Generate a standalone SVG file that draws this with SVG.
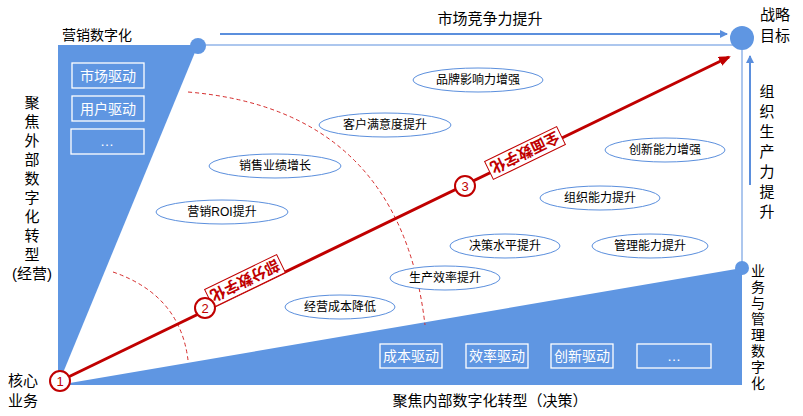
<svg xmlns="http://www.w3.org/2000/svg" width="803" height="416" viewBox="0 0 803 416">
<defs>
<marker id="ab" markerWidth="8" markerHeight="8" refX="7" refY="4" orient="auto" markerUnits="userSpaceOnUse"><path d="M0,0 L8,4 L0,8 z" fill="#5b8fdd"/></marker>
<marker id="ar" markerWidth="12" markerHeight="10" refX="10" refY="5" orient="auto" markerUnits="userSpaceOnUse"><path d="M0,0 L12,5 L0,10 z" fill="#c00000"/></marker>
</defs>
<style>
text{font-family:"Liberation Sans","Noto Sans CJK SC",sans-serif;fill:#000}
.e{fill:#fff;stroke:#5b8fdd;stroke-width:1}
.et{font-size:12px;text-anchor:middle}
.bx{fill:none;stroke:#fff;stroke-width:1.3}
.bt{font-size:14px;fill:#fff;text-anchor:middle}
.lb{font-size:15px}
.num{fill:#fff;stroke:#c00000;stroke-width:2}
.nt{font-size:13px;fill:#c00000;text-anchor:middle}
.st{font-size:15px;font-weight:bold;fill:#c00000;text-anchor:middle}
.dash{fill:none;stroke:#d52b2b;stroke-width:1;stroke-dasharray:4,3}
</style>
<rect width="803" height="416" fill="#fff"/>
<g id="shapes">
<polygon points="58,45 198,45 58,385" fill="#5f96e2"/>
<polygon points="58,385 742,268 742,385" fill="#5f96e2"/>
<line x1="198" y1="45" x2="742" y2="45" stroke="#5b8fdd" stroke-width="1"/>
<line x1="742" y1="50" x2="742" y2="268" stroke="#5b8fdd" stroke-width="1"/>
<circle cx="198" cy="46" r="8" fill="#5f96e2"/>
<circle cx="742" cy="268" r="7" fill="#5f96e2"/>
<circle cx="742" cy="38" r="12" fill="#5f96e2"/>
<path class="dash" d="M188,92 Q400,110 425,325"/>
<path class="dash" d="M113,272 Q180,295 188,360"/>
</g>
<g id="left-boxes">
<rect class="bx" x="72" y="63" width="72" height="25"/><text class="bt" x="108" y="81">市场驱动</text>
<rect class="bx" x="72" y="96" width="72" height="25"/><text class="bt" x="108" y="114">用户驱动</text>
<rect class="bx" x="71" y="129" width="73" height="25"/><text class="bt" x="107" y="146">…</text>
</g>
<g id="bottom-boxes">
<rect class="bx" x="380" y="344" width="62" height="24"/><text class="bt" x="411" y="361">成本驱动</text>
<rect class="bx" x="466" y="344" width="62" height="24"/><text class="bt" x="497" y="361">效率驱动</text>
<rect class="bx" x="551" y="344" width="62" height="24"/><text class="bt" x="582" y="361">创新驱动</text>
<rect class="bx" x="637" y="344" width="74" height="24"/><text class="bt" x="674" y="361">…</text>
</g>
<g id="ellipses">
<ellipse class="e" cx="478" cy="80" rx="65" ry="12"/><text class="et" x="478" y="84">品牌影响力增强</text>
<ellipse class="e" cx="385" cy="125" rx="66" ry="12"/><text class="et" x="385" y="129">客户满意度提升</text>
<ellipse class="e" cx="665" cy="150" rx="60" ry="12"/><text class="et" x="665" y="154">创新能力增强</text>
<ellipse class="e" cx="275" cy="166" rx="66" ry="12"/><text class="et" x="275" y="170">销售业绩增长</text>
<ellipse class="e" cx="600" cy="198" rx="60" ry="12"/><text class="et" x="600" y="202">组织能力提升</text>
<ellipse class="e" cx="222" cy="212" rx="66" ry="12"/><text class="et" x="222" y="216">营销ROI提升</text>
<ellipse class="e" cx="505" cy="246" rx="55" ry="12"/><text class="et" x="505" y="250">决策水平提升</text>
<ellipse class="e" cx="650" cy="246" rx="58" ry="12"/><text class="et" x="650" y="250">管理能力提升</text>
<ellipse class="e" cx="445" cy="278" rx="55" ry="12"/><text class="et" x="445" y="282">生产效率提升</text>
<ellipse class="e" cx="340" cy="307" rx="55" ry="12"/><text class="et" x="340" y="311">经营成本降低</text>
</g>
<g id="connectors">
<line x1="220" y1="34" x2="727" y2="34" stroke="#5b8fdd" stroke-width="2" marker-end="url(#ab)"/>
<line x1="750" y1="185" x2="750" y2="56" stroke="#5b8fdd" stroke-width="2" marker-end="url(#ab)"/>
<line x1="58" y1="382" x2="729" y2="57" stroke="#c00000" stroke-width="3" marker-end="url(#ar)"/>
</g>
<g id="stamps">
<g transform="translate(245,281) rotate(154.2)"><rect x="-40" y="-10" width="80" height="20" fill="#fff" stroke="#c00000" stroke-width="1"/><text class="st" x="0" y="6">部分数字化</text></g>
<g transform="translate(525,153) rotate(154.2)"><rect x="-40" y="-10" width="80" height="20" fill="#fff" stroke="#c00000" stroke-width="1"/><text class="st" x="0" y="6">全面数字化</text></g>
</g>
<g id="nums">
<circle class="num" cx="60" cy="381" r="10"/><text class="nt" x="60" y="386">1</text>
<circle class="num" cx="205" cy="308" r="10"/><text class="nt" x="205" y="313">2</text>
<circle class="num" cx="465" cy="186" r="10"/><text class="nt" x="465" y="191">3</text>
</g>
<g id="labels">
<text x="62" y="40" style="font-size:14px">营销数字化</text>
<text x="490" y="24" class="lb" text-anchor="middle">市场竞争力提升</text>
<text x="775" y="20" class="lb" text-anchor="middle">战略</text>
<text x="775" y="41" class="lb" text-anchor="middle">目标</text>
<text x="8" y="386" class="lb">核心</text>
<text x="8" y="406" class="lb">业务</text>
<text x="490" y="406" class="lb" text-anchor="middle">聚焦内部数字化转型（决策）</text>
<g class="lb" text-anchor="middle">
<text x="32" y="108">聚</text><text x="32" y="127">焦</text><text x="32" y="146">外</text><text x="32" y="165">部</text><text x="32" y="184">数</text><text x="32" y="203">字</text><text x="32" y="222">化</text><text x="32" y="241">转</text><text x="32" y="260">型</text><text x="32" y="279">(经营)</text>
<text x="767" y="97">组</text><text x="767" y="117">织</text><text x="767" y="137">生</text><text x="767" y="157">产</text><text x="767" y="177">力</text><text x="767" y="197">提</text><text x="767" y="217">升</text>
</g>
<g style="font-size:14px" text-anchor="middle">
<text x="758" y="276">业</text><text x="758" y="292">务</text><text x="758" y="308">与</text><text x="758" y="324">管</text><text x="758" y="340">理</text><text x="758" y="356">数</text><text x="758" y="372">字</text><text x="758" y="388">化</text>
</g>
</g>
</svg>
